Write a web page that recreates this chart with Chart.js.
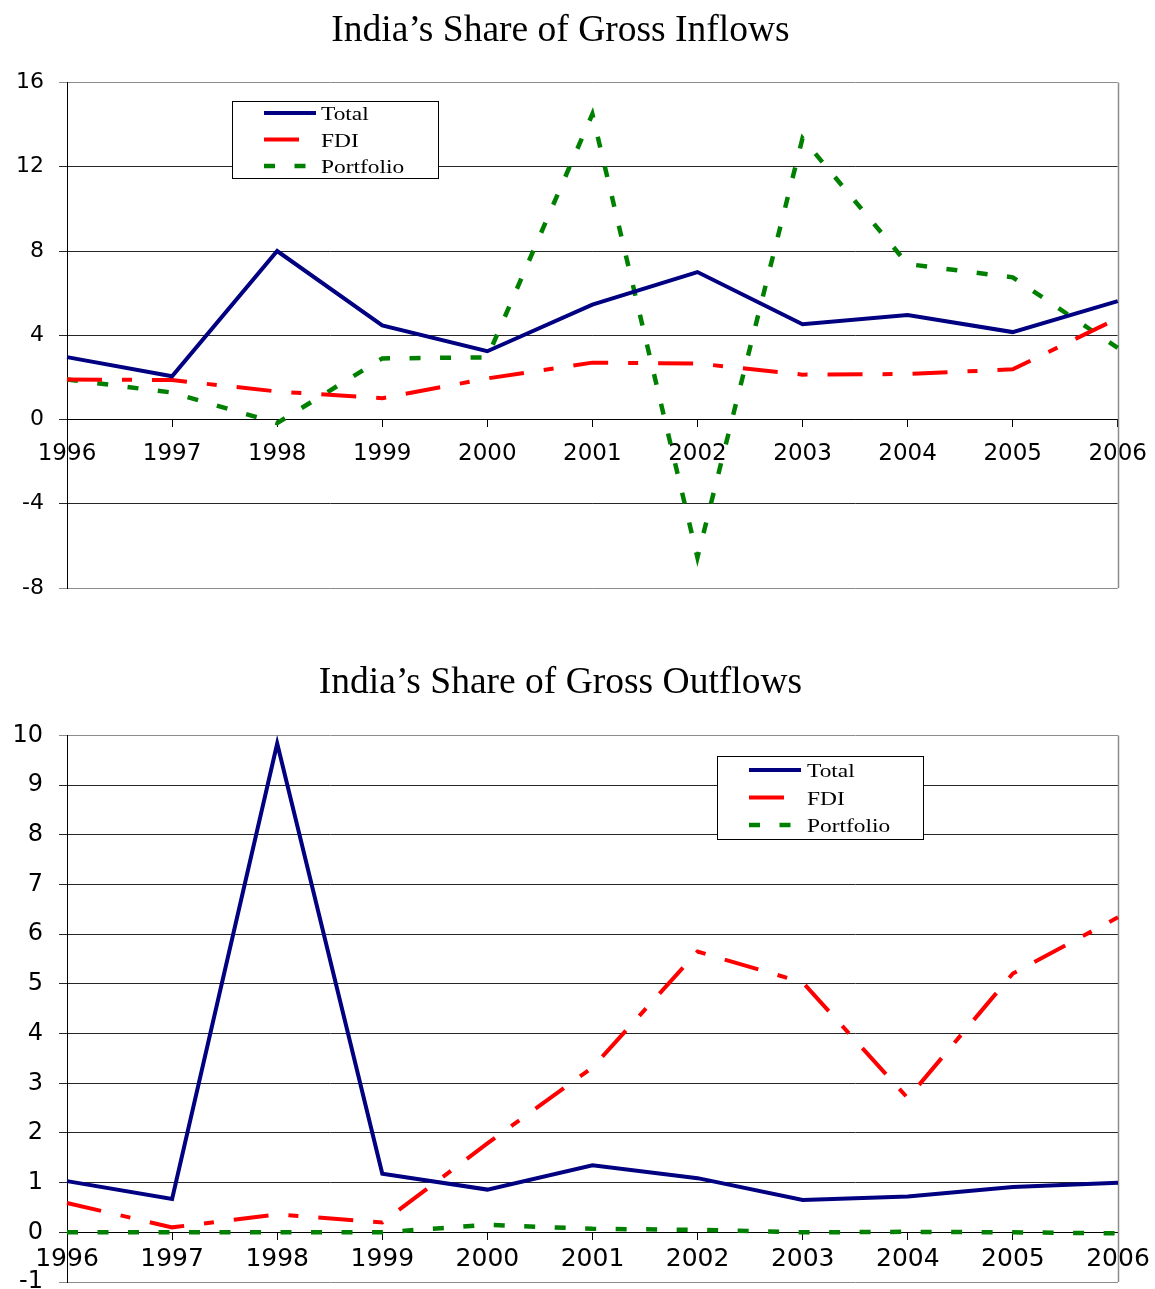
<!DOCTYPE html>
<html>
<head>
<meta charset="utf-8">
<script src="https://cdn.jsdelivr.net/npm/chart.js@4.4.1/dist/chart.umd.min.js"></script>
<style>
html,body{margin:0;padding:0;background:#fff;overflow:hidden;width:1155px;height:1289px;}
#c1{position:absolute;left:0;top:0;}
#c2{position:absolute;left:0;top:620px;}
</style>
</head>
<body>
<canvas id="c1" width="1155" height="620"></canvas>
<canvas id="c2" width="1155" height="700"></canvas>
<script>
// ---- data ----
const years = ['1996','1997','1998','1999','2000','2001','2002','2003','2004','2005','2006'];

const inflowTotal     = [2.96, 2.05, 8.00, 4.47, 3.24, 5.45, 7.00, 4.52, 4.96, 4.15, 5.62];
const inflowFDI       = [1.90, 1.87, 1.33, 1.01, 1.95, 2.70, 2.66, 2.13, 2.16, 2.38, 4.80];
const inflowPortfolio = [1.90, 1.28, -0.17, 2.90, 2.95, 14.50, -6.55, 13.35, 7.38, 6.75, 3.40];

const outflowTotal     = [1.03, 0.67, 9.84, 1.18, 0.86, 1.35, 1.09, 0.65, 0.72, 0.91, 1.00];
const outflowFDI       = [0.59, 0.10, 0.36, 0.20, 1.79, 3.32, 5.65, 5.03, 2.70, 5.21, 6.34];
const outflowPortfolio = [0.00, 0.00, 0.00, 0.00, 0.15, 0.07, 0.05, 0.00, 0.01, 0.00, -0.02];

const inflowAxis  = { min: -8, max: 16, step: 4 };
const outflowAxis = { min: -1, max: 10, step: 1 };

const seriesNames = ['Total', 'FDI', 'Portfolio'];
const titles = ['India\u2019s Share of Gross Inflows', 'India\u2019s Share of Gross Outflows'];

// ---- plugins ----
const plotBorder = {
  id: 'plotBorder',
  beforeDatasetsDraw(chart) {
    const a = chart.chartArea, ctx = chart.ctx;
    ctx.save();
    ctx.strokeStyle = '#8c8c8c';
    ctx.lineWidth = 1.5;
    ctx.beginPath();
    ctx.moveTo(Math.round(a.right) + 0.5, a.top);
    ctx.lineTo(Math.round(a.right) + 0.5, a.bottom);
    ctx.stroke();
    ctx.restore();
  }
};

const boxLegend = {
  id: 'boxLegend',
  afterDraw(chart, args, o) {
    const ctx = chart.ctx;
    ctx.save();
    ctx.fillStyle = '#fff';
    ctx.fillRect(o.x, o.y, o.w, o.h);
    ctx.strokeStyle = '#000';
    ctx.lineWidth = 1;
    ctx.strokeRect(o.x + 0.5, o.y + 0.5, o.w, o.h);
    chart.data.datasets.forEach((ds, i) => {
      const ly = o.y + o.firstRow + i * o.rowGap;
      ctx.save();
      ctx.beginPath();
      ctx.setLineDash(ds.borderDash || []);
      ctx.strokeStyle = ds.borderColor;
      ctx.lineWidth = ds.borderWidth;
      ctx.lineCap = 'butt';
      ctx.moveTo(o.x + o.sampleX, ly);
      ctx.lineTo(o.x + o.sampleX + o.sampleW, ly);
      ctx.stroke();
      ctx.restore();
      ctx.save();
      ctx.translate(o.x + o.textX, ly + o.baseOff);
      ctx.scale(o.stretch, 1);
      ctx.font = o.font;
      ctx.fillStyle = '#000';
      ctx.textBaseline = 'alphabetic';
      ctx.fillText(ds.label, 0, 0);
      ctx.restore();
    });
    ctx.restore();
  }
};

function makeChart(canvasId, title, vals, axis, cfg) {
  const datasets = [
    { label: seriesNames[0], data: vals[0], borderColor: '#000080', borderWidth: 4, borderDash: [] },
    { label: seriesNames[1], data: vals[1], borderColor: '#ff0000', borderWidth: 4, borderDash: [35, 20, 10, 20] },
    { label: seriesNames[2], data: vals[2], borderColor: '#008000', borderWidth: 4.5, borderDash: [11, 19.5] }
  ].map(d => Object.assign(d, { fill: false, tension: 0, pointRadius: 0, pointHoverRadius: 0 }));

  return new Chart(document.getElementById(canvasId), {
    type: 'line',
    data: { labels: years, datasets },
    plugins: [plotBorder, boxLegend],
    options: {
      responsive: false,
      animation: false,
      devicePixelRatio: 1,
      events: [],
      layout: { padding: { left: 3, right: 37, top: 0, bottom: cfg.padBottom } },
      plugins: {
        legend: { display: false },
        tooltip: { enabled: false },
        title: {
          display: true,
          text: title,
          color: '#000',
          font: { family: 'Liberation Serif', size: 37.5, weight: 'normal' },
          padding: { top: cfg.titleTop, bottom: cfg.titleBottom }
        },
        boxLegend: cfg.legend
      },
      scales: {
        x: {
          type: 'category',
          position: { y: 0 },
          offset: false,
          grid: { drawOnChartArea: false, drawTicks: true, tickLength: 7, color: '#000' },
          border: { display: true, color: '#000', width: 1 },
          ticks: {
            color: '#000', padding: cfg.xPad, maxRotation: 0, autoSkip: false,
            font: { family: 'DejaVu Sans', size: cfg.xFont, lineHeight: cfg.xLine }
          }
        },
        y: {
          min: axis.min, max: axis.max,
          afterFit(scale) { scale.width = 64; },
          grid: {
            color: c => (c.tick && (c.tick.value === axis.max || c.tick.value === axis.min)) ? '#8c8c8c' : '#262626',
            lineWidth: 1, tickLength: 8, drawTicks: true
          },
          border: { display: true, color: '#000', width: 1 },
          ticks: {
            stepSize: axis.step, color: '#000', padding: cfg.yPad,
            font: { family: 'DejaVu Sans', size: cfg.yFont }
          }
        }
      }
    }
  });
}

makeChart('c1', titles[0], [inflowTotal, inflowFDI, inflowPortfolio], inflowAxis, {
  padBottom: 32, titleTop: 9, titleBottom: 28.5, xPad: 8, xFont: 23, xLine: 1.74, yPad: 15, yFont: 22,
  legend: { x: 232, y: 101, w: 206, h: 77, sampleX: 32, sampleW: 52, textX: 89, firstRow: 12, rowGap: 26.5, baseOff: 7,
            font: '18px "Liberation Serif"', stretch: 1.3 }
});

makeChart('c2', titles[1], [outflowTotal, outflowFDI, outflowPortfolio], outflowAxis, {
  padBottom: 38, titleTop: 41, titleBottom: 29.5, xPad: 5, xFont: 25, xLine: 1.2, yPad: 16, yFont: 24,
  legend: { x: 717, y: 136, w: 206, h: 83, sampleX: 32, sampleW: 52, textX: 90, firstRow: 14, rowGap: 27.5, baseOff: 7,
            font: '18px "Liberation Serif"', stretch: 1.3 }
});
</script>
</body>
</html>
